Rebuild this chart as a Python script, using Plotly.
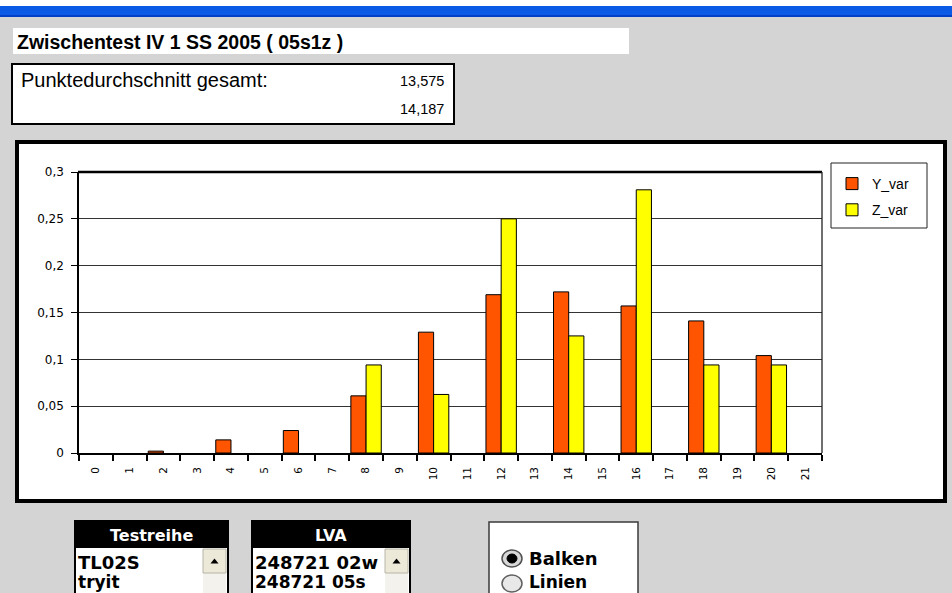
import plotly.graph_objects as go

W, H = 952, 593

# ---------------- data ----------------
categories = [str(i) for i in range(22)]
y_var = [None, None, 0.002, None, 0.014, None, 0.024, None, 0.061, None, 0.129, None,
         0.169, None, 0.172, None, 0.157, None, 0.141, None, 0.104, None]
z_var = [None, None, None, None, None, None, None, None, 0.094, None, 0.0625, None,
         0.25, None, 0.125, None, 0.281, None, 0.094, None, 0.094, None]
series_names = ["Y_var", "Z_var"]
y_tickvals = [0, 0.05, 0.1, 0.15, 0.2, 0.25, 0.3]
y_ticktext = ["0", "0,05", "0,1", "0,15", "0,2", "0,25", "0,3"]
title_text = "Zwischentest IV 1 SS 2005 ( 05s1z )"
avg_label = "Punktedurchschnitt gesamt:"
avg_values = ["13,575", "14,187"]
testreihe_header = "Testreihe"
testreihe_items = ["TL02S", "tryit"]
lva_header = "LVA"
lva_items = ["248721 02w", "248721 05s"]
radio_items = ["Balken", "Linien"]

# ---------------- styles ----------------
GREY = "#d4d4d4"
RED = "#ff5500"
YELLOW = "#ffff00"
ARIAL = "Liberation Sans"
DEJA = "DejaVu Sans"


def fx(x):
    return x / W


def fy(y):
    return 1 - y / H


shapes = []
annotations = []


def rect(x0, y0, x1, y1, fill, line_color=None, lw=0, layer="below"):
    shapes.append(dict(type="rect", xref="paper", yref="paper",
                       x0=fx(x0), x1=fx(x1), y0=fy(y1), y1=fy(y0),
                       fillcolor=fill,
                       line=dict(color=line_color or fill, width=lw),
                       layer=layer))


def line(x0, y0, x1, y1, color, lw, layer="above"):
    shapes.append(dict(type="line", xref="paper", yref="paper",
                       x0=fx(x0), x1=fx(x1), y0=fy(y0), y1=fy(y1),
                       line=dict(color=color, width=lw), layer=layer))


def ellipse(x0, y0, x1, y1, fill, line_color, lw, layer="above"):
    shapes.append(dict(type="circle", xref="paper", yref="paper",
                       x0=fx(x0), x1=fx(x1), y0=fy(y1), y1=fy(y0),
                       fillcolor=fill, line=dict(color=line_color, width=lw),
                       layer=layer))


def tri(cx, cy, w, h, color):
    p = (f"M{fx(cx - w / 2)},{fy(cy + h / 2)} L{fx(cx + w / 2)},{fy(cy + h / 2)} "
         f"L{fx(cx)},{fy(cy - h / 2)} Z")
    shapes.append(dict(type="path", xref="paper", yref="paper", path=p,
                       fillcolor=color, line=dict(color=color, width=0),
                       layer="above"))


def text(x, y, s, size, color="black", family=ARIAL, bold=False, anchor="left"):
    annotations.append(dict(x=fx(x), y=fy(y), xref="paper", yref="paper",
                            text=s, showarrow=False, xanchor=anchor,
                            yanchor="middle", borderpad=0,
                            font=dict(size=size, color=color, family=family,
                                      weight="bold" if bold else "normal")))


# window title bar strip
rect(0, 0, W, 6, "white")
rect(0, 6, W, 17, "#0a5ae6")
line(0, 16, W, 16, "#0040c8", 2, layer="below")

# title box
rect(13, 28, 629, 54, "white")
text(16, 42, title_text, 19.5, bold=True)

# average box
rect(12, 64, 454, 124, "white", "black", 2)
text(20, 80, avg_label, 20)
text(445, 81, avg_values[0], 14.5, anchor="right")
text(445, 109, avg_values[1], 14.5, anchor="right")

# chart frame
rect(17, 142, 945, 501, "white", "black", 4)

# legend frame
rect(831, 163, 927, 228, "white", "#222222", 1, layer="above")

# plot area top / right borders
line(78, 172, 822, 172, "black", 2.5)
line(822, 172, 822, 453, "#222222", 1.3)


def listbox(x0, x1, header, items):
    rect(x0, 521, x1, 600, "white", "black", 2)
    rect(x0, 521, x1, 548, "black")
    text((x0 + x1) / 2, 535, header, 16, "white", DEJA, True, "center")
    ys = [562, 582]
    sizes = [18, 17]
    for i, it in enumerate(items):
        text(x0 + 2, ys[i], it, sizes[i], "black", DEJA, True)
    # scroll bar
    rect(x1 - 25, 573, x1 - 2, 600, "#f3f2ec", layer="above")
    rect(x1 - 25, 549, x1 - 2, 573, "#ece9d8", "#b8b5a8", 1, layer="above")
    tri(x1 - 13.5, 561, 8, 5, "black")


listbox(75, 228, testreihe_header, testreihe_items)
listbox(252, 410, lva_header, lva_items)

# radio group
rect(489, 522, 638, 600, "white", "#3a3a3a", 1.5)
ellipse(502, 550, 522, 567, "#d8d8d8", "#505050", 1.5)
ellipse(507, 554, 517, 563, "black", "black", 1)
text(528, 558, radio_items[0], 18, "black", DEJA, True)
ellipse(502, 575, 522, 592, "#e8e8e8", "#606060", 1.5)
text(528, 582, radio_items[1], 17, "black", DEJA, True)

# ---------------- chart ----------------
fig = go.Figure()
fig.add_trace(go.Bar(name=series_names[0], x=categories, y=y_var,
                     marker=dict(color=RED, line=dict(color="black", width=1)),
                     legendgroup="a"))
fig.add_trace(go.Bar(name=series_names[1], x=categories, y=z_var,
                     marker=dict(color=YELLOW, line=dict(color="black", width=1)),
                     legendgroup="b"))

fig.update_layout(
    width=W, height=H,
    margin=dict(l=0, r=0, t=0, b=0, pad=0, autoexpand=False),
    paper_bgcolor=GREY,
    plot_bgcolor="white",
    barmode="group",
    bargap=0.1,
    bargroupgap=0,
    showlegend=True,
    legend=dict(x=fx(832), y=fy(168), xanchor="left", yanchor="top",
                bgcolor="rgba(0,0,0,0)", borderwidth=0,
                font=dict(family=ARIAL, size=14, color="black"),
                tracegroupgap=5, itemwidth=30),
    shapes=shapes,
    annotations=annotations,
    xaxis=dict(domain=[fx(79), fx(822)], type="category",
               tickson="boundaries", ticks="outside", ticklen=6,
               tickcolor="black", tickwidth=1.5,
               tickangle=-90, ticklabelstandoff=8,
               tickfont=dict(family=DEJA, size=10.5, color="black"),
               showline=True, linecolor="black", linewidth=1.5,
               showgrid=False, fixedrange=True),
    xaxis2=dict(domain=[fx(79), fx(822)], overlaying="x", anchor="y",
                range=[-0.5, len(categories) - 0.5], tick0=-0.5, dtick=1,
                ticks="inside", ticklen=4, tickcolor="black", tickwidth=1.5,
                showticklabels=False, showgrid=False, zeroline=False,
                showline=False, fixedrange=True),
    yaxis=dict(domain=[fy(453), fy(172)], range=[0, 0.3],
               tickvals=y_tickvals, ticktext=y_ticktext,
               ticks="outside", ticklen=6, tickcolor="black",
               tickfont=dict(family=DEJA, size=12, color="black"),
               ticklabelstandoff=5,
               showline=True, linecolor="black", linewidth=1.5,
               showgrid=True, gridcolor="#333333", gridwidth=1,
               zeroline=False, fixedrange=True),
)

fig.write_html(
    "out.html",
    config={"displayModeBar": False},
    post_script="document.body.style.margin='0';document.body.style.overflow='hidden';",
)
